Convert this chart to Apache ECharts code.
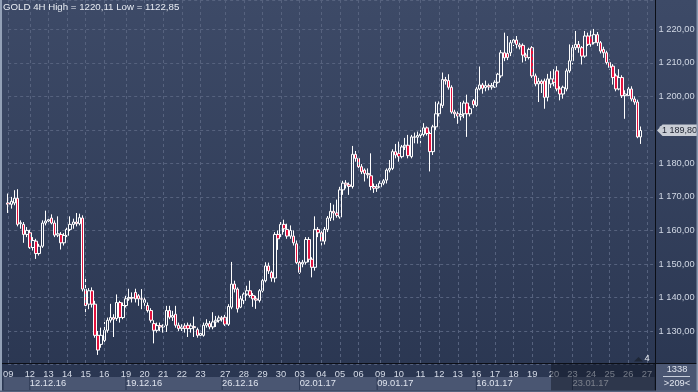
<!DOCTYPE html>
<html><head><meta charset="utf-8">
<script src="https://cdn.jsdelivr.net/npm/echarts@6/dist/echarts.min.js"></script>
<style>html,body{margin:0;padding:0;background:#2f3b57;overflow:hidden}#c{width:698px;height:392px}</style>
</head><body><div id="c"></div>
<script>
const FONT = '"Liberation Sans", Arial, sans-serif';
const FS = 9.3;

// day tick labels and the slot index where each day begins
const dayLabels = ['09','12','13','14','15','16','19','20','21','22','23','27','28','29','30','03','04','05','06','09','10','11','12','13','16','17','18','19','20','23','24','25','26','27'];
const dayStarts = [0,7,13,19,25,31,38,44,50,56,62,70,76,82,88,94,101,107,113,120,126,133,139,145,151,157,163,169,176,182,188,194,200,206];
// week tick labels and their start slots
const weekLabels = ['12.12.16','19.12.16','26.12.16','02.01.17','09.01.17','16.01.17','23.01.17'];
const weekStarts = [7,38,69,94,119,151,182];
const SLOTS = 209;

// candles: [open, close, low, high], grouped by week
const wkDec09 = [
[1168.2,1167.8,1165.2,1171.0],[1167.8,1168.7,1166.5,1170.0],[1168.2,1169.6,1167.5,1172.0],[1169.6,1161.8,1161.2,1172.3],
[1162.0,1162.3,1160.5,1163.0],[1161.8,1158.8,1156.3,1162.5],[1158.8,1160.0,1158.0,1161.0]];
const wkDec12 = [
[1159.3,1154.9,1154.5,1160.2],[1154.9,1157.0,1154.0,1158.0],[1156.8,1153.1,1151.5,1157.5],[1153.1,1155.3,1152.5,1156.0],
[1155.3,1162.2,1154.8,1163.0],[1162.2,1162.8,1161.5,1165.9],[1162.8,1163.2,1162.0,1164.0],[1163.7,1162.2,1161.8,1164.8],
[1162.2,1158.6,1158.0,1163.0],[1158.6,1159.0,1158.0,1164.2],[1158.8,1156.3,1154.3,1159.5],[1156.3,1158.5,1155.5,1159.2],
[1158.5,1160.3,1158.0,1160.8],[1160.3,1161.8,1159.8,1164.2],[1161.8,1162.5,1160.5,1163.5],[1162.5,1162.0,1161.2,1165.2],
[1162.0,1163.8,1161.5,1165.0],[1163.7,1142.5,1141.8,1164.5],[1142.5,1137.6,1134.6,1146.0],[1138.0,1142.0,1136.5,1142.8],
[1142.0,1138.0,1137.0,1143.0],[1138.0,1128.7,1128.0,1139.0],[1128.7,1124.3,1122.85,1130.0],[1126.0,1128.7,1125.0,1131.0],
[1127.2,1130.2,1126.5,1132.7],[1130.2,1133.2,1129.5,1134.0],[1133.2,1134.0,1132.5,1138.1],[1134.0,1133.5,1128.2,1135.0],
[1133.7,1138.5,1133.0,1140.9],[1138.5,1134.0,1132.5,1139.0],[1134.0,1137.6,1133.5,1138.5]];
const wkDec19 = [
[1137.6,1139.6,1137.0,1140.5],[1139.6,1140.0,1139.0,1142.6],[1140.0,1139.8,1138.5,1141.5],[1141.5,1139.6,1138.5,1142.6],
[1140.5,1139.6,1137.5,1141.0],[1139.6,1139.5,1136.5,1142.5],[1139.3,1138.5,1137.5,1140.0],[1137.6,1136.1,1135.5,1138.5],
[1136.1,1133.2,1132.5,1136.8],[1132.2,1130.2,1126.3,1133.2],[1130.2,1131.6,1129.5,1132.5],[1131.6,1131.2,1130.0,1132.5],
[1131.2,1131.5,1129.5,1132.0],[1131.7,1136.1,1129.7,1137.5],[1136.1,1134.1,1133.5,1137.5],[1134.1,1134.6,1133.0,1136.0],
[1135.0,1131.7,1131.0,1137.5],[1131.7,1130.7,1130.0,1132.5],[1130.7,1131.2,1130.0,1132.0],[1131.5,1130.8,1129.5,1132.3],
[1131.7,1130.7,1128.2,1132.5],[1130.7,1131.5,1129.5,1132.3],[1131.3,1131.0,1128.2,1134.3],[1130.4,1128.7,1128.0,1131.0],
[1128.7,1129.3,1128.2,1130.0],[1128.7,1131.7,1128.3,1132.5],[1131.7,1132.3,1131.0,1133.5],[1132.2,1131.2,1130.5,1133.0],
[1131.2,1132.7,1130.5,1135.6],[1132.7,1133.2,1131.2,1134.5],[1133.2,1133.9,1132.5,1134.6],[1133.9,1133.6,1132.8,1134.5]];
const wkDec26 = [
[1134.1,1132.0,1131.5,1134.8],[1132.0,1137.3,1131.5,1138.0],[1137.1,1144.0,1136.5,1150.6],[1144.0,1142.5,1141.5,1145.0],
[1142.5,1136.6,1135.5,1143.0],[1137.1,1139.6,1136.8,1140.5],[1139.1,1141.0,1138.0,1141.5],[1141.0,1142.0,1140.5,1143.5],
[1142.0,1140.6,1140.0,1145.0],[1140.6,1139.6,1137.2,1141.3],[1139.6,1139.2,1136.6,1140.5],[1139.1,1142.0,1138.5,1142.5],
[1142.0,1145.0,1141.5,1145.5],[1145.0,1149.4,1144.5,1150.5],[1149.4,1147.9,1147.0,1150.4],[1147.5,1145.8,1144.7,1148.0],
[1145.8,1158.8,1144.5,1159.5],[1158.8,1157.5,1154.2,1160.0],[1158.8,1161.8,1158.0,1162.5],[1161.8,1160.5,1159.5,1163.2],
[1160.3,1158.3,1157.5,1162.0],[1158.3,1160.0,1157.5,1161.5],[1158.3,1156.3,1155.5,1160.0],[1156.0,1150.4,1150.0,1157.0]];
const wkJan02 = [
[1150.4,1147.5,1147.0,1151.0],[1150.0,1150.5,1149.0,1151.2],[1150.5,1157.3,1149.8,1158.0],[1157.3,1151.4,1150.5,1158.0],
[1151.4,1149.0,1146.0,1152.0],[1149.0,1160.3,1148.0,1164.2],[1160.3,1159.3,1158.0,1161.0],[1159.3,1156.8,1155.5,1159.8],
[1156.8,1160.3,1155.8,1161.0],[1160.3,1163.7,1159.5,1164.3],[1163.7,1165.7,1162.8,1168.2],[1165.7,1165.2,1163.0,1167.7],
[1165.2,1164.5,1163.8,1169.2],[1164.0,1172.1,1163.5,1173.0],[1172.1,1174.1,1170.6,1174.8],[1174.1,1173.6,1172.5,1175.0],
[1173.6,1173.1,1170.6,1174.3],[1173.1,1182.7,1172.5,1185.2],[1182.7,1181.5,1180.5,1183.7],[1181.5,1179.0,1178.5,1182.0],
[1179.0,1177.5,1176.8,1179.8],[1178.0,1177.0,1174.6,1178.5],[1177.0,1176.6,1175.5,1178.5],[1176.3,1173.1,1172.0,1183.0],
[1173.1,1172.6,1171.2,1174.0],[1172.6,1173.0,1171.5,1173.8]];
const wkJan09 = [
[1173.0,1174.1,1172.8,1174.8],[1174.1,1174.8,1173.5,1175.3],[1175.0,1178.0,1174.0,1178.5],[1178.0,1178.5,1177.3,1181.0],
[1178.5,1183.5,1178.0,1184.2],[1183.5,1182.5,1181.5,1185.8],[1183.0,1182.0,1180.5,1186.5],[1182.0,1184.9,1181.5,1185.5],
[1184.9,1185.4,1184.0,1187.6],[1185.4,1182.3,1181.5,1188.5],[1182.0,1187.9,1181.5,1188.5],[1187.9,1187.8,1186.0,1189.2],
[1187.8,1188.3,1185.9,1189.5],[1188.3,1188.8,1186.0,1190.0],[1188.6,1190.6,1188.0,1192.0],[1190.6,1188.9,1188.3,1191.0],
[1188.9,1183.5,1177.6,1189.5],[1183.5,1190.9,1182.5,1191.5],[1190.9,1194.8,1190.0,1198.4],[1194.8,1197.8,1194.0,1198.5],
[1197.3,1205.0,1196.5,1207.1],[1205.0,1204.6,1203.5,1205.8],[1204.7,1202.7,1202.0,1206.6],[1202.7,1195.3,1194.8,1203.3],
[1195.3,1194.8,1193.5,1196.0],[1194.8,1194.1,1191.8,1195.5],[1194.1,1194.6,1192.8,1198.3],[1194.8,1198.0,1193.5,1198.7],
[1198.0,1194.8,1187.9,1200.5],[1194.8,1196.3,1194.0,1197.0],[1198.7,1197.5,1196.5,1199.2]];
const wkJan16 = [
[1197.3,1202.2,1196.8,1203.0],[1202.2,1203.4,1201.8,1208.9],[1203.4,1202.4,1200.8,1204.0],[1202.6,1203.2,1201.5,1204.7],
[1203.2,1202.8,1201.8,1203.8],[1202.8,1203.2,1202.0,1204.0],[1202.8,1204.2,1202.5,1204.8],[1204.2,1206.6,1203.8,1207.0],
[1206.1,1213.0,1205.5,1213.8],[1213.0,1211.5,1210.5,1219.0],[1212.8,1211.6,1210.8,1218.0],[1213.0,1216.0,1212.0,1216.8],
[1216.0,1216.8,1215.0,1218.0],[1216.8,1215.5,1214.3,1218.0],[1215.3,1214.8,1214.0,1216.0],[1215.2,1212.3,1210.1,1215.8],
[1212.3,1211.7,1210.5,1213.0],[1211.6,1214.0,1211.0,1214.5],[1214.5,1206.1,1205.5,1215.0],[1206.1,1203.7,1203.0,1206.8],
[1203.7,1204.5,1198.3,1205.5],[1204.5,1203.8,1201.0,1205.0],[1204.6,1199.7,1196.3,1205.3],[1199.7,1205.2,1198.5,1206.7],
[1203.7,1205.2,1202.5,1207.5],[1205.2,1204.2,1203.0,1208.1],[1207.6,1202.2,1201.5,1209.0],[1202.2,1200.7,1198.8,1203.0],
[1200.7,1202.7,1199.3,1203.2],[1202.2,1207.6,1201.5,1208.3],[1207.6,1210.6,1207.0,1215.5]];
const wkJan23 = [
[1210.6,1214.5,1209.5,1216.0],[1214.5,1215.5,1213.8,1219.5],[1215.5,1214.5,1213.0,1216.5],[1214.5,1212.0,1209.5,1215.0],
[1212.0,1218.0,1211.5,1219.5],[1218.0,1215.5,1215.0,1219.0],[1218.0,1215.5,1214.8,1219.6],[1216.0,1218.4,1215.5,1220.11],
[1218.4,1216.0,1215.0,1219.2],[1216.0,1213.5,1212.8,1216.5],[1214.0,1213.0,1211.5,1214.8],[1213.0,1210.1,1209.5,1213.6],
[1210.1,1208.6,1208.0,1211.0],[1209.0,1205.6,1203.5,1209.6],[1206.1,1202.2,1201.5,1206.8],[1202.2,1205.6,1201.8,1208.1],
[1205.6,1200.2,1199.5,1206.3],[1200.2,1200.7,1193.3,1201.8],[1200.2,1202.2,1199.2,1203.2],[1202.2,1199.2,1198.5,1203.0],
[1199.2,1198.3,1197.5,1200.0],[1198.3,1187.9,1187.5,1199.0],[1187.9,1189.8,1185.8,1191.0]];

const candles = [].concat(wkDec09, wkDec12, wkDec19, wkDec26, wkJan02, wkJan09, wkJan16, wkJan23);

const cats = Array(SLOTS).fill('');
dayStarts.forEach((s, k) => { cats[s] = dayLabels[k]; });
const weekCats = Array(SLOTS).fill('');
weekStarts.forEach((s, k) => { weekCats[s] = weekLabels[k]; });

function fmtPrice(v, sep) {
  const s = v.toFixed(2).split('.');
  const ip = sep ? s[0].replace(/\B(?=(\d{3})+(?!\d))/g, ' ') : s[0];
  return ip + ',' + s[1];
}
const hi = Math.max(...candles.map(c => c[3]));
const lo = Math.min(...candles.map(c => c[2]));
const lastClose = candles[candles.length - 1][1];

const gridCol = '#56627e';
const option = {
  animation: false,
  backgroundColor: {type: 'linear', x: 0, y: 0, x2: 0, y2: 1,
    colorStops: [{offset: 0, color: '#3d4a67'}, {offset: 1, color: '#2a3651'}]},
  textStyle: {fontFamily: FONT},
  title: {text: 'GOLD 4H High = ' + fmtPrice(hi, false) + ' Low = ' + fmtPrice(lo, false),
    left: 3, top: 2, padding: 0,
    textStyle: {color: '#e8ecf3', fontSize: FS + 0.4, fontWeight: 'normal', fontFamily: FONT}},
  grid: {left: 3.1, right: 44.9, top: -3, bottom: 27.5},
  xAxis: [{
    type: 'category', data: cats, boundaryGap: false, z: 5,
    axisLine: {show: false}, axisTick: {show: false},
    axisLabel: {interval: (i, v) => v !== '', color: '#d6dce8', fontSize: FS, margin: 5, fontFamily: FONT,
      alignMinLabel: 'center', alignMaxLabel: 'center', showMinLabel: true, showMaxLabel: true},
    splitLine: {show: true, interval: (i, v) => v !== '', lineStyle: {color: gridCol, type: [3, 3], width: 1}}
  }, {
    type: 'category', data: weekCats, boundaryGap: false, position: 'bottom', offset: 11, z: 5,
    axisLine: {show: false}, axisTick: {show: false},
    axisLabel: {interval: (i, v) => v !== '', align: 'left', color: '#dfe4ee', fontSize: FS, margin: 3.5, fontFamily: FONT},
    splitLine: {show: false}
  }],
  yAxis: {
    type: 'value', position: 'right', min: 1120, max: 1228.74, interval: 10,
    axisLine: {show: false}, axisTick: {show: false},
    axisLabel: {formatter: v => (v <= 1120 || v > 1221) ? '' : fmtPrice(v, true), color: '#d0d7e4', fontSize: FS, margin: 5.4, align: 'left', fontFamily: FONT},
    splitLine: {lineStyle: {color: gridCol, type: [3, 3], width: 1}}
  },
  series: [{
    type: 'candlestick', data: candles, barWidth: 3, clip: false,
    itemStyle: {color: 'rgba(0,0,0,0)', color0: '#e3123e', borderColor: '#ffffff', borderColor0: '#ffffff', borderWidth: 1}
  }]
};

const chart = echarts.init(document.getElementById('c'), null, {renderer: 'canvas'});
chart.setOption(option);

const px = i => chart.convertToPixel({xAxisIndex: 0}, i);
const tagY = chart.convertToPixel({yAxisIndex: 0}, lastClose);
const els = [];
// week boxes in the time strip
const edges = [3.1].concat(weekStarts.map(px)).concat([655]);
for (let k = 0; k < edges.length - 1; k++) {
  els.push({type: 'rect', z: 1, shape: {x: edges[k] + 0.5, y: 377, width: edges[k + 1] - edges[k] - 1, height: 13}, style: {fill: '#4a5672'}});
}
// separators
els.push({type: 'line', z: 30, shape: {x1: 0, y1: 363.5, x2: 698, y2: 363.5}, style: {stroke: '#0b0e16', lineWidth: 1}});
els.push({type: 'line', z: 30, shape: {x1: 655.5, y1: 0, x2: 655.5, y2: 392}, style: {stroke: '#0b0e16', lineWidth: 1}});
// dim overlay on the right of the time strip
els.push({type: 'rect', z: 25, shape: {x: 551, y: 364, width: 104, height: 28}, style: {fill: 'rgba(18,24,38,0.5)'}});
// bottom right info box
els.push({type: 'rect', z: 20, shape: {x: 656, y: 364, width: 42, height: 28}, style: {fill: '#4a5672'}});
els.push({type: 'text', z: 31, style: {text: '1338', x: 677, y: 369.7, align: 'center', verticalAlign: 'middle', fill: '#e2e6ef', font: FS + 'px ' + FONT}});
els.push({type: 'line', z: 31, shape: {x1: 663, y1: 376.5, x2: 690, y2: 376.5}, style: {stroke: '#c8cfdc', lineWidth: 1}});
els.push({type: 'text', z: 31, style: {text: '>209<', x: 677, y: 383.5, align: 'center', verticalAlign: 'middle', fill: '#e2e6ef', font: FS + 'px ' + FONT}});
// shift marker
els.push({type: 'polygon', z: 31, shape: {points: [[634, 361.5], [638.5, 357], [643, 361.5]]}, style: {fill: '#1e2636'}});
els.push({type: 'text', z: 31, style: {text: '4', x: 647, y: 358.5, align: 'center', verticalAlign: 'middle', fill: '#eef1f6', font: FS + 'px ' + FONT}});
// current price tag
els.push({type: 'polygon', z: 32, shape: {points: [[657, tagY], [662.5, tagY - 6], [698, tagY - 6], [698, tagY + 5.5], [662.5, tagY + 5.5]]}, style: {fill: '#c9cdd5'}});
els.push({type: 'text', z: 33, style: {text: fmtPrice(lastClose, true), x: 662, y: tagY, align: 'left', verticalAlign: 'middle', fill: '#1d2230', font: '9px ' + FONT}});
// borders
els.push({type: 'rect', z: 34, shape: {x: 0, y: 0, width: 2, height: 392}, style: {fill: '#93a1b7'}});
els.push({type: 'rect', z: 34, shape: {x: 696.5, y: 0, width: 1.5, height: 392}, style: {fill: '#8a98ae'}});
els.push({type: 'rect', z: 34, shape: {x: 0, y: 390.5, width: 698, height: 1.5}, style: {fill: '#56637e'}});
chart.setOption({graphic: els});
</script>
</body></html>
